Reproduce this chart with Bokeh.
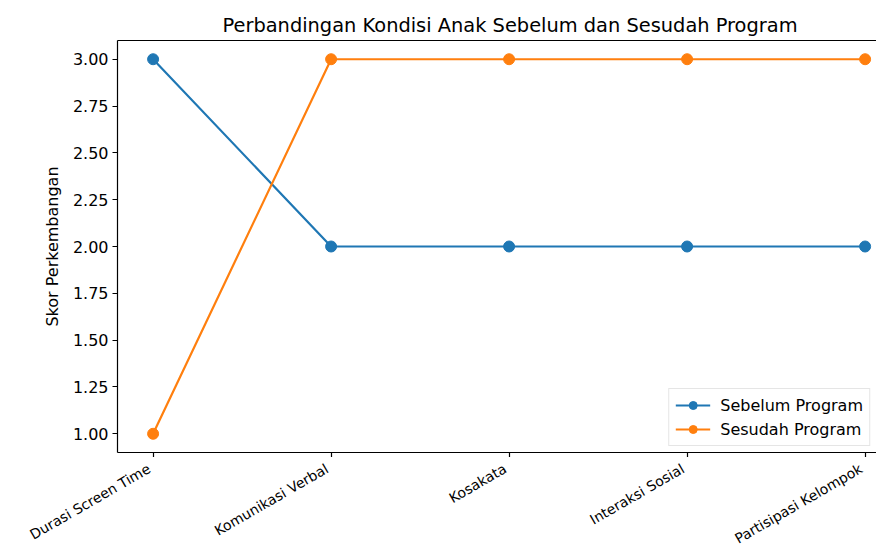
import math
from bokeh.plotting import figure
from bokeh.models import (Range1d, FixedTicker, LinearAxis, NumeralTickFormatter,
                          ColumnDataSource, Legend, LegendItem, Label)
from bokeh.embed import file_html
from bokeh.resources import INLINE

categories = ["Durasi Screen Time", "Komunikasi Verbal", "Kosakata",
              "Interaksi Sosial", "Partisipasi Kelompok"]
sebelum = [3, 2, 2, 2, 2]
sesudah = [1, 3, 3, 3, 3]
y_ticks = [1.0, 1.25, 1.5, 1.75, 2.0, 2.25, 2.5, 2.75, 3.0]

title_text = "Perbandingan Kondisi Anak Sebelum dan Sesudah Program"
y_label = "Skor Perkembangan"
series_names = ["Sebelum Program", "Sesudah Program"]
colors = ["#1f77b4", "#ff7f0e"]

FONT = "DejaVu Sans"
x_idx = list(range(len(categories)))
Y0, Y1 = 0.9, 3.1
X0, X1 = -0.2, 4.064
W = 876
MAIN_H = 457
LABEL_H = 93
LEFT = 117

xr = Range1d(X0, X1)

p = figure(width=W, height=MAIN_H, output_backend="svg", toolbar_location=None,
           x_range=xr, y_range=Range1d(Y0, Y1),
           min_border_left=LEFT, min_border_right=0, min_border_top=40,
           min_border_bottom=5, x_axis_type=None, y_axis_type=None)
p.outline_line_color = None
p.xgrid.visible = False
p.ygrid.visible = False
p.background_fill_color = "white"
p.border_fill_color = "white"

p.title.text = title_text
p.title.align = "left"
p.title.offset = 105
p.title.text_font = FONT
p.title.text_font_size = "19.4px"
p.title.text_font_style = "normal"
p.title.text_color = "#000000"
p.title.standoff = 7

# bottom axis: line + ticks only (labels drawn below, in a strip with the same x scale)
xa = LinearAxis(ticker=FixedTicker(ticks=x_idx))
xa.major_label_text_color = None
xa.major_label_standoff = 0
xa.major_tick_out = 5
xa.major_tick_in = 0
xa.minor_tick_out = 0
xa.minor_tick_in = 0
xa.axis_line_color = "#000000"
xa.axis_line_width = 1.2
xa.major_tick_line_color = "#000000"
xa.major_tick_line_width = 1.2
p.add_layout(xa, "below")

# left axis
ya = LinearAxis(ticker=FixedTicker(ticks=y_ticks),
                formatter=NumeralTickFormatter(format="0.00"))
ya.axis_label = y_label
ya.axis_label_text_font = FONT
ya.axis_label_text_font_size = "16px"
ya.axis_label_text_font_style = "normal"
ya.axis_label_text_color = "#000000"
ya.axis_label_standoff = 8
ya.major_label_text_font = FONT
ya.major_label_text_font_size = "16px"
ya.major_label_text_color = "#000000"
ya.major_tick_out = 5
ya.major_tick_in = 0
ya.minor_tick_out = 0
ya.minor_tick_in = 0
ya.axis_line_color = "#000000"
ya.axis_line_width = 1.2
ya.major_tick_line_color = "#000000"
ya.major_tick_line_width = 1.2
ya.major_label_standoff = 4
p.add_layout(ya, "left")

# top spine
ta = LinearAxis(ticker=FixedTicker(ticks=[]))
ta.major_label_text_color = None
ta.major_tick_out = 0
ta.major_tick_in = 0
ta.minor_tick_out = 0
ta.minor_tick_in = 0
ta.major_label_standoff = 0
ta.axis_line_color = "#000000"
ta.axis_line_width = 1.2
p.add_layout(ta, "above")

items = []
for name, vals, col in zip(series_names, [sebelum, sesudah], colors):
    src = ColumnDataSource(dict(x=x_idx, y=vals))
    l = p.line("x", "y", source=src, line_color=col, line_width=2.2)
    s = p.scatter("x", "y", source=src, size=11, fill_color=col, line_color=col)
    items.append(LegendItem(label=name, renderers=[l, s]))

legend = Legend(items=items, location="bottom_right")
legend.label_text_font = FONT
legend.label_text_font_size = "16px"
legend.label_text_color = "#000000"
legend.glyph_width = 35
legend.glyph_height = 20
legend.label_standoff = 10
legend.spacing = 4
legend.padding = 6
legend.margin = 6
legend.border_line_color = "#cccccc"
legend.border_line_width = 1
legend.background_fill_alpha = 0.8
p.add_layout(legend, "center")

# category label strip (separate root, so its frame spans the full width),
# with the same px-per-unit x scale as the main plot
px_per_unit = (W - LEFT) / (X1 - X0)
xr2 = Range1d(X0 - LEFT / px_per_unit, X1)
p2 = figure(width=W, height=LABEL_H, output_backend="svg", toolbar_location=None,
            x_range=xr2, y_range=Range1d(-LABEL_H, 0),
            min_border_left=0, min_border_right=0, min_border_top=0,
            min_border_bottom=0, x_axis_type=None, y_axis_type=None)
p2.outline_line_color = None
p2.xgrid.visible = False
p2.ygrid.visible = False
p2.border_fill_color = "white"
for i, cat in zip(x_idx, categories):
    p2.add_layout(Label(x=i, y=-3, x_units="data", y_units="data",
                        x_offset=-8, text=cat, angle=30, angle_units="deg",
                        text_align="right", text_baseline="top",
                        text_font=FONT, text_font_size="14px",
                        text_color="#000000"))

open("out.html", "w").write(file_html([p, p2], INLINE))
